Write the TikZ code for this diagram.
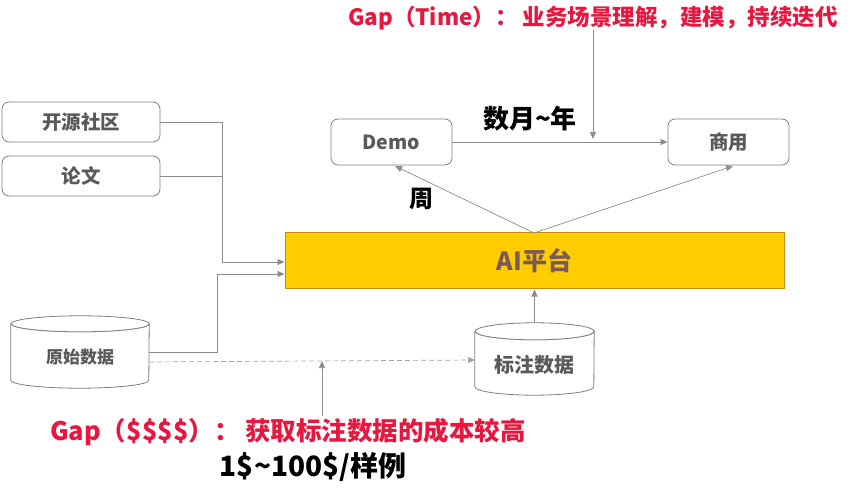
\documentclass[tikz,border=0pt]{standalone}
\usepackage{fontspec}
\newfontfamily\cjk{Noto Sans CJK SC}
\usetikzlibrary{arrows.meta}
\definecolor{boxgray}{HTML}{7F7F7F}
\definecolor{txtgray}{HTML}{595959}
\definecolor{linegray}{HTML}{8C8C8C}
\definecolor{gapred}{HTML}{E8173F}
\definecolor{aifill}{HTML}{FFCC00}
\definecolor{aiborder}{HTML}{BF9000}
\definecolor{aitext}{HTML}{7A5A55}
\begin{document}
\begin{tikzpicture}[x=1pt,y=-1pt,
  box/.style={draw=boxgray, fill=white, rounded corners=7pt, line width=0.8pt, text=txtgray,
    font=\cjk\bfseries\fontsize{19.5}{21}\selectfont, inner sep=0pt},
  cylbox/.style={inner sep=0pt, text=txtgray, font=\cjk\bfseries\fontsize{17}{19}\selectfont},
  cyl/.style={draw=boxgray, fill=white, line width=0.8pt},
  conn/.style={draw=linegray, line width=0.7pt},
  arr/.style={conn, -{Triangle[length=7pt,width=6pt]}},
  gap/.style={text=gapred, font=\cjk\bfseries\fontsize{22.5}{25}\selectfont, inner sep=0pt},
  lbl/.style={text=black, font=\cjk\bfseries\fontsize{26}{28}\selectfont, inner sep=0pt}]
\useasboundingbox (0,0) rectangle (851,494);

% top-left boxes
\node[box, minimum width=158pt, minimum height=40pt] (os) at (81,122) {开源社区};
\node[box, minimum width=158pt, minimum height=40pt] (pp) at (81,176) {论文};

% AI platform
\node[draw=aiborder, fill=aifill, line width=1pt, minimum width=499pt, minimum height=56pt,
  inner sep=0pt, text=aitext, font=\cjk\bfseries\fontsize{25}{27}\selectfont] (ai) at (534.5,261) {AI平台};

% Demo / 商用
\node[box, minimum width=121pt, minimum height=46pt] (demo) at (391.5,142) {Demo};
\node[box, minimum width=121pt, minimum height=46pt] (biz) at (728.5,142) {商用};

% cylinders
\node[cylbox, minimum width=138pt, minimum height=72pt] (raw) at (80,352) {};
\draw[cyl] ([yshift=-8pt]raw.north west) -- ([yshift=8pt]raw.south west)
  arc[start angle=180, end angle=360, x radius=69pt, y radius=8pt]
  -- ([yshift=-8pt]raw.north east)
  arc[start angle=0, end angle=-180, x radius=69pt, y radius=8pt] -- cycle;
\draw[cyl] ([yshift=-8pt]raw.north east) arc[start angle=0, end angle=360, x radius=69pt, y radius=8pt];
\node[cylbox] at ([yshift=-5pt]raw.center) {原始数据};

\node[cylbox, minimum width=119pt, minimum height=72pt] (lab) at (534.5,359) {};
\draw[cyl] ([yshift=-8.5pt]lab.north west) -- ([yshift=8.5pt]lab.south west)
  arc[start angle=180, end angle=360, x radius=59.5pt, y radius=8.5pt]
  -- ([yshift=-8.5pt]lab.north east)
  arc[start angle=0, end angle=-180, x radius=59.5pt, y radius=8.5pt] -- cycle;
\draw[cyl] ([yshift=-8.5pt]lab.north east) arc[start angle=0, end angle=360, x radius=59.5pt, y radius=8.5pt];
\node[cylbox, font=\cjk\bfseries\fontsize{20}{22}\selectfont] at ([yshift=-6pt]lab.center) {标注数据};

% connectors into AI
\coordinate (j1) at (222,262);
\coordinate (j2) at (217,274);
\draw[arr] (os.east) -| (j1) -- (j1 -| ai.west);
\draw[conn] (pp.east) -- (pp.east -| j1);
\coordinate (rawout) at (149,352);
\draw[arr] (rawout) -| (j2) -- (j2 -| ai.west);
\coordinate (rawdash) at (149,362);
\coordinate (labin) at (475,360);
\draw[arr, dashed, dash pattern=on 5pt off 3pt, draw=linegray!80] (rawdash) -- (labin);
\draw[arr] (lab.north) -- (ai.south);

% AI to Demo / 商用
\coordinate (apex) at (534,233);
\coordinate (demoin) at (395,166);
\coordinate (bizin) at (733,166);
\draw[arr] (apex) -- (demoin);
\draw[arr] (apex) -- (bizin);
\draw[arr] (demo.east) -- (biz.west);

% labels
\node[lbl, font=\cjk\bfseries\fontsize{24}{26}\selectfont] (week) at (421,199) {周};
\node[lbl] (months) at (530,119) {数月\textasciitilde 年};

% gaps
\node[gap] (gaptime) at (593,18) {Gap（Time）： 业务场景理解，建模，持续迭代};
\coordinate (gtend) at (593,139);
\coordinate (gtstart) at (593,30);
\draw[arr] (gtstart) -- (gtend);

\node[gap, font=\cjk\bfseries\fontsize{25.5}{28}\selectfont] (gapmoney) at (288,432) {Gap（\$\$\$\$）： 获取标注数据的成本较高};
\coordinate (gmend) at (322,361);
\coordinate (gmstart) at (322,416);
\draw[arr] (gmstart) -- (gmend);
\node[lbl, font=\cjk\bfseries\fontsize{28}{30}\selectfont] (cost) at (313,467) {1\$\textasciitilde 100\$/样例};
\end{tikzpicture}
\end{document}
